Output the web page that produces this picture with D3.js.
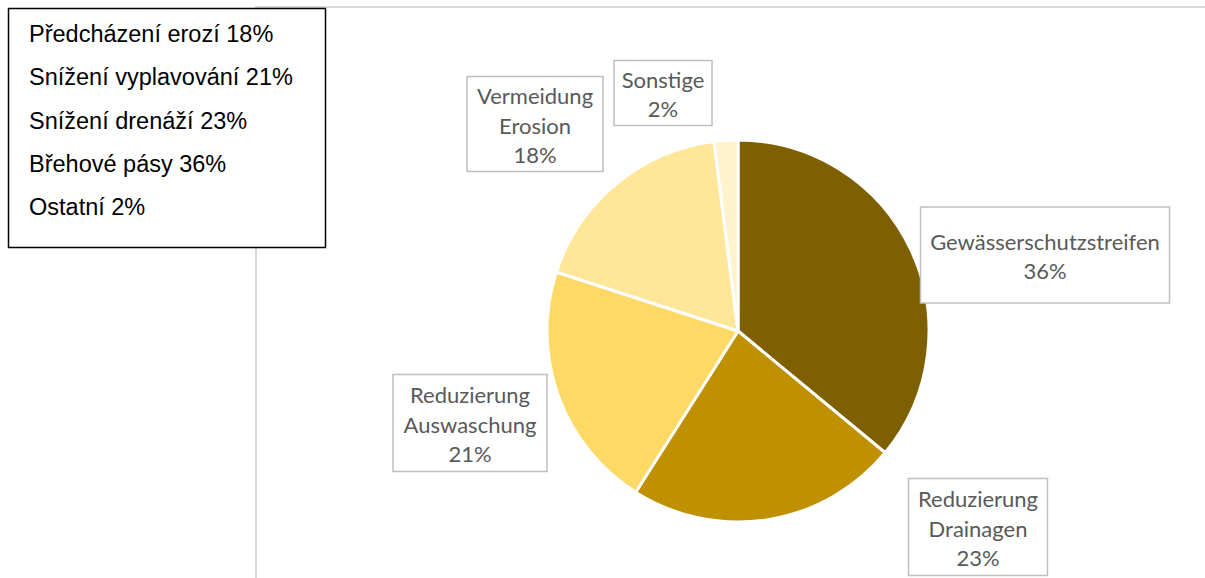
<!DOCTYPE html>
<html>
<head>
<meta charset="utf-8">
<style>
  body { margin: 0; background: #fff; }
  .lbl text { font-family: Lato, "Open Sans", sans-serif; fill: #595959; }
  .legend text { font-family: "Liberation Sans", Arial, sans-serif; fill: #000; }
</style>
</head>
<body>
<svg width="1205" height="578"></svg>
<script src="https://cdn.jsdelivr.net/npm/d3@7"></script>
<script>
// slice data, clockwise from 12 o'clock
var categories = ["Gewässerschutzstreifen", "Reduzierung Drainagen", "Reduzierung Auswaschung", "Vermeidung Erosion", "Sonstige"];
var values = [36, 23, 21, 18, 2];
var colors = ["#7f6000", "#bf9000", "#ffd966", "#ffe699", "#fff2cc"];

// legend box (Czech)
var legendNames = ["Předcházení erozí", "Snížení vyplavování", "Snížení drenáží", "Břehové pásy", "Ostatní"];
var legendValues = [18, 21, 23, 36, 2];

// label box layout: center offset from pie center, box size
var labelLayout = [
  { dx: 307, dy: -76, w: 249, h: 96 },
  { dx: 240, dy: 196, w: 139, h: 97 },
  { dx: -268, dy: 92, w: 154, h: 97 },
  { dx: -203, dy: -207, w: 136, h: 95 },
  { dx: -75, dy: -238, w: 98, h: 65 }
];

var svg = d3.select("svg"),
    cx = 738, cy = 331, r = 191;

// plot area border lines
svg.append("line").attr("x1", 255).attr("x2", 1205).attr("y1", 7).attr("y2", 7)
  .attr("stroke", "#d9d9d9").attr("stroke-width", 2);
svg.append("line").attr("x1", 256).attr("x2", 256).attr("y1", 7).attr("y2", 578)
  .attr("stroke", "#d9d9d9").attr("stroke-width", 2);

var pie = d3.pie().sort(null).value(function (d) { return d; });
var arc = d3.arc().innerRadius(0).outerRadius(r);

var g = svg.append("g").attr("transform", "translate(" + cx + "," + cy + ")");

g.selectAll("path")
  .data(pie(values))
  .enter().append("path")
  .attr("d", arc)
  .attr("fill", function (d, i) { return colors[i]; })
  .attr("stroke", "#fff")
  .attr("stroke-width", 3)
  .attr("stroke-linejoin", "round");

// data labels
var lbl = g.selectAll(".lbl")
  .data(categories)
  .enter().append("g")
  .attr("class", "lbl")
  .attr("transform", function (d, i) { return "translate(" + labelLayout[i].dx + "," + labelLayout[i].dy + ")"; });

lbl.append("rect")
  .attr("x", function (d, i) { return -labelLayout[i].w / 2; })
  .attr("y", function (d, i) { return -labelLayout[i].h / 2; })
  .attr("width", function (d, i) { return labelLayout[i].w; })
  .attr("height", function (d, i) { return labelLayout[i].h; })
  .attr("fill", "#fff")
  .attr("stroke", "#bfbfbf")
  .attr("stroke-width", 1.5);

lbl.each(function (d, i) {
  var lines = d.split(" ").concat([values[i] + "%"]);
  var lh = 29.5;
  var t = d3.select(this).append("text")
    .attr("text-anchor", "middle")
    .style("font-size", "22px");
  lines.forEach(function (s, j) {
    t.append("tspan")
      .attr("x", 0)
      .attr("y", (j - (lines.length - 1) / 2) * lh + 2)
      .attr("dy", "0.35em")
      .text(s);
  });
});

// legend
var lg = svg.append("g").attr("class", "legend");
lg.append("rect")
  .attr("x", 8.5).attr("y", 8.5).attr("width", 317).attr("height", 239)
  .attr("fill", "#fff").attr("stroke", "#000").attr("stroke-width", 1.5);

lg.selectAll("text")
  .data(legendNames)
  .enter().append("text")
  .attr("x", 29)
  .attr("y", function (d, i) { return 42 + i * 43.3; })
  .style("font-size", "23.5px")
  .text(function (d, i) { return d + " " + legendValues[i] + "%"; });
</script>
</body>
</html>
